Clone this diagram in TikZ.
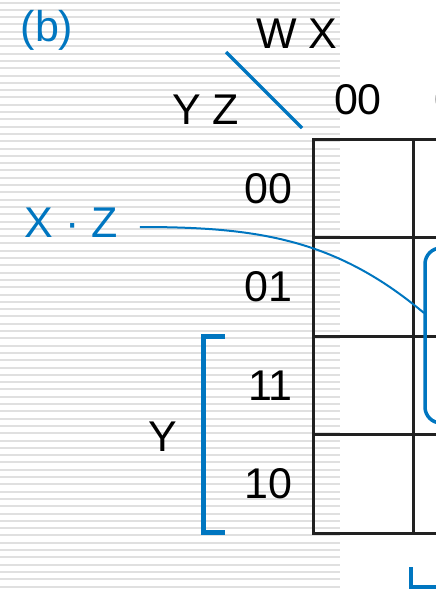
\documentclass[tikz,border=0pt]{standalone}
\usepackage{fontspec}
\setmainfont{Liberation Sans}
\usetikzlibrary{positioning}
\definecolor{kblue}{RGB}{0,118,192}
\tikzset{
  lbl/.style={inner sep=0, font=\fontsize{43}{50}\selectfont},
  bluelbl/.style={lbl, text=kblue},
  cell/.style={draw=black!87, line width=3pt, minimum width=100pt,
        minimum height=98.5pt, inner sep=0},
  stripe/.style={draw=black!12, line width=2pt},
  link/.style={kblue, line width=2pt},
  brk/.style={kblue, line width=5pt},
}
\begin{document}
\begin{tikzpicture}[x=1pt, y=-1pt]
    \useasboundingbox (0,0) rectangle (436,589);
    \clip (0,0) rectangle (436,589);

    \foreach \k in {0,...,80}
        \draw[stripe] (0,2.5+7.3*\k) -- (340,2.5+7.3*\k);

    \foreach \r in {0,...,3}
        \foreach \c in {0,1}
            \node[cell] (c\r\c) at (363+100*\c, 188.25+98.5*\r) {};

    \node[bluelbl] (tag) at (47,30) {(b)};
    \node[lbl] (wx) at (297,34) {W X};
    \node[lbl] (yz) at (205.5,110) {Y Z};
    \draw[brk, line width=3.5pt] (226,52) -- (302,128);

    \node[lbl, above=22pt of c00, xshift=-5pt] (col0) {00};
    \node[lbl, above=22pt of c01, xshift=-5pt] (col1) {01};

    \node[lbl, left=18.5pt of c00] (row0) {00};
    \node[lbl, left=18.5pt of c10] (row1) {01};
    \node[lbl, left=18.5pt of c20] (row2) {11};
    \node[lbl, left=18.5pt of c30] (row3) {10};

    \node[lbl] (y) at (162.5,437) {Y};
    \draw[brk] (225,336) -| (203.5,532.5) -- (225,532.5);
    \draw[brk, line width=4.5pt] (411,567) |- (440,587.5);

    \draw[kblue, line width=3.5pt, rounded corners=16pt]
        (425,248) rectangle (620,423);
    \coordinate (hit) at (424,313);

    \node[bluelbl] (xz) at (71,222.5) {X · Z};
    \draw[link] ([xshift=22pt, yshift=-4.5pt]xz.east) to[out=0, in=140] (hit);

\end{tikzpicture}
\end{document}
